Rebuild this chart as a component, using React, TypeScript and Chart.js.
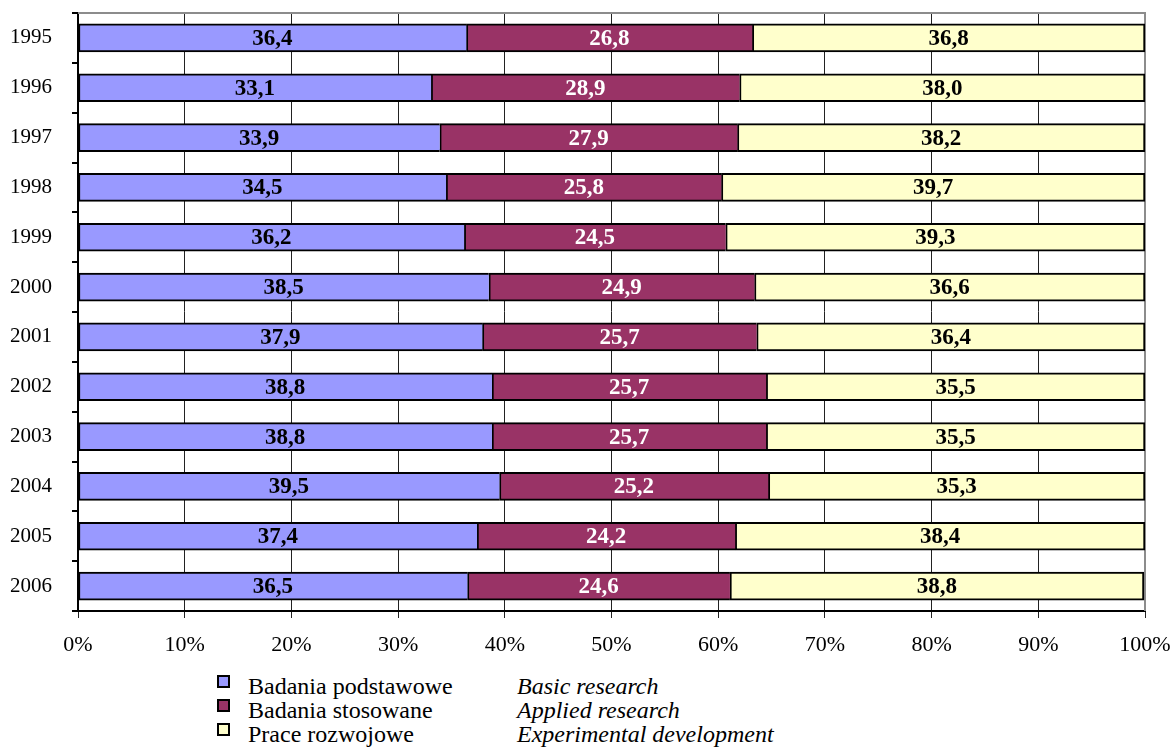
import React, { useEffect, useRef } from "react";
import { Chart, registerables } from "chart.js";

Chart.register(...registerables);

const YEARS = ["1995", "1996", "1997", "1998", "1999", "2000", "2001", "2002", "2003", "2004", "2005", "2006"];
const BASIC = [36.4, 33.1, 33.9, 34.5, 36.2, 38.5, 37.9, 38.8, 38.8, 39.5, 37.4, 36.5];
const APPLIED = [26.8, 28.9, 27.9, 25.8, 24.5, 24.9, 25.7, 25.7, 25.7, 25.2, 24.2, 24.6];
const DEVELOPMENT = [36.8, 38.0, 38.2, 39.7, 39.3, 36.6, 36.4, 35.5, 35.5, 35.3, 38.4, 38.8];

const SERIES_PL = ["Badania podstawowe", "Badania stosowane", "Prace rozwojowe"];
const SERIES_EN = ["Basic research", "Applied research", "Experimental development"];
const SERIES_COLORS = ["#9999FF", "#993366", "#FFFFCC"];
const LABEL_COLORS = ["#000000", "#FFFFFF", "#000000"];

const FONT = "'Liberation Serif', 'Times New Roman', serif";

// Writes each segment's value (with a decimal comma) in the middle of the segment.
const valueLabels = {
  id: "valueLabels",
  afterDatasetsDraw(chart: any) {
    const ctx = chart.ctx;
    ctx.save();
    ctx.font = `bold 23px ${FONT}`;
    ctx.textAlign = "center";
    ctx.textBaseline = "middle";
    chart.data.datasets.forEach((ds: any, di: number) => {
      const meta = chart.getDatasetMeta(di);
      meta.data.forEach((bar: any, i: number) => {
        const v = ds.data[i] as number;
        const c = bar.getCenterPoint();
        ctx.fillStyle = LABEL_COLORS[di];
        ctx.fillText(v.toFixed(1).replace(".", ","), c.x, c.y + 1);
      });
    });
    ctx.restore();
  },
};

// Grey frame along the top and right of the plot area.
const plotFrame = {
  id: "plotFrame",
  beforeDatasetsDraw(chart: any) {
    const { ctx, chartArea } = chart;
    ctx.save();
    ctx.strokeStyle = "#8c8c8c";
    ctx.lineWidth = 2;
    ctx.beginPath();
    ctx.moveTo(chartArea.left, chartArea.top);
    ctx.lineTo(chartArea.right, chartArea.top);
    ctx.lineTo(chartArea.right, chartArea.bottom);
    ctx.stroke();
    ctx.restore();
  },
};

// Keep tick labels from pushing the plot area inward.
const noOverflowPadding = (scale: any) => {
  scale.paddingTop = 0;
  scale.paddingBottom = 0;
  scale.paddingLeft = 0;
  scale.paddingRight = 0;
};

export default function App() {
  const canvasRef = useRef<HTMLCanvasElement | null>(null);

  useEffect(() => {
    if (!canvasRef.current) return;
    const seriesData = [BASIC, APPLIED, DEVELOPMENT];
    const chart = new Chart(canvasRef.current, {
      type: "bar",
      data: {
        labels: YEARS,
        datasets: seriesData.map((d, i) => ({
          label: SERIES_PL[i],
          data: d,
          backgroundColor: SERIES_COLORS[i],
          borderColor: "#000000",
          borderWidth:
            i === seriesData.length - 1
              ? { top: 2, bottom: 2, left: 2, right: 2 }
              : { top: 2, bottom: 2, left: 2, right: 0 },
          borderSkipped: false,
          barThickness: 28,
        })),
      },
      options: {
        indexAxis: "y",
        responsive: false,
        animation: false,
        layout: { padding: { top: 13, right: 30, bottom: 0, left: 0 } },
        plugins: {
          legend: { display: false },
          tooltip: { enabled: false },
        },
        scales: {
          x: {
            stacked: true,
            min: 0,
            max: 100,
            ticks: {
              stepSize: 10,
              color: "#000",
              padding: 14,
              font: { family: FONT, size: 22 },
              callback: (v: any) => `${v}%`,
            },
            grid: { color: "#222", lineWidth: 1, tickLength: 7, drawOnChartArea: true },
            border: { color: "#000", width: 2 },
            afterFit: (scale: any) => {
              scale.height = 54;
              noOverflowPadding(scale);
            },
          },
          y: {
            stacked: true,
            offset: true,
            ticks: {
              color: "#000",
              padding: 20,
              font: { family: FONT, size: 21 },
            },
            grid: { offset: true, drawOnChartArea: false, color: "#000", lineWidth: 2, tickLength: 6 },
            border: { color: "#000", width: 2 },
            afterFit: (scale: any) => {
              scale.width = 78;
              noOverflowPadding(scale);
            },
          },
        },
      },
      plugins: [plotFrame, valueLabels],
    } as any);
    return () => chart.destroy();
  }, []);

  const rowTop = 674;
  const rowStep = 24;

  return (
    <div
      style={{
        position: "absolute",
        left: 0,
        top: 0,
        width: 1175,
        height: 748,
        overflow: "hidden",
        background: "#fff",
        fontFamily: FONT,
      }}
    >
      <canvas ref={canvasRef} width={1175} height={665} style={{ position: "absolute", left: 0, top: 0 }} />
      {SERIES_PL.map((name, i) => (
        <React.Fragment key={name}>
          <div
            style={{
              position: "absolute",
              left: 217,
              top: rowTop + 1 + i * rowStep,
              width: 13,
              height: 13,
              boxSizing: "border-box",
              border: "2px solid #000",
              background: SERIES_COLORS[i],
            }}
          />
          <div
            style={{
              position: "absolute",
              left: 248,
              top: rowTop + i * rowStep,
              fontSize: 24,
              lineHeight: "24px",
              color: "#000",
              whiteSpace: "nowrap",
            }}
          >
            {name}
          </div>
          <div
            style={{
              position: "absolute",
              left: 517,
              top: rowTop + i * rowStep,
              fontSize: 24,
              lineHeight: "24px",
              fontStyle: "italic",
              color: "#000",
              whiteSpace: "nowrap",
            }}
          >
            {SERIES_EN[i]}
          </div>
        </React.Fragment>
      ))}
    </div>
  );
}
